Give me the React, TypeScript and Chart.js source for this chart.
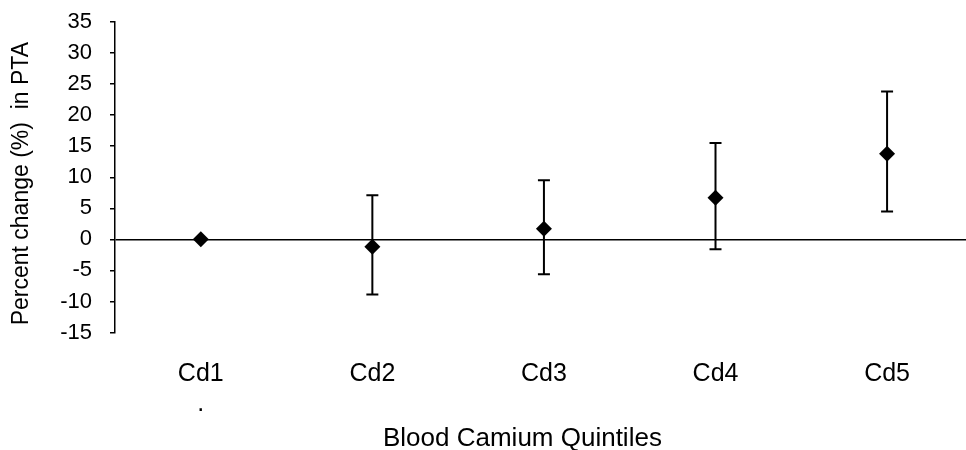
import React, { useEffect, useRef } from "react";
import { Chart, registerables } from "chart.js";

Chart.register(...registerables);

const categories = ["Cd1", "Cd2", "Cd3", "Cd4", "Cd5"];
const percentChange = [0, -1.2, 1.7, 6.7, 13.8];
const lowerCI = [0, -8.9, -5.6, -1.6, 4.5];
const upperCI = [0, 7.1, 9.5, 15.5, 23.8];
const yTicks = [-15, -10, -5, 0, 5, 10, 15, 20, 25, 30, 35];

const FONT = "'Liberation Sans', Arial, sans-serif";

const errorBarPlugin = {
  id: "errorBars",
  beforeDatasetsDraw(chart: any) {
    const { ctx, scales } = chart;
    const xs = scales.x;
    const ys = scales.y;
    ctx.save();
    ctx.strokeStyle = "#000";
    ctx.lineWidth = 2;
    categories.forEach((_, i) => {
      const x = xs.getPixelForValue(i + 1);
      const yLo = ys.getPixelForValue(lowerCI[i]);
      const yHi = ys.getPixelForValue(upperCI[i]);
      const cap = 6;
      ctx.beginPath();
      ctx.moveTo(x, yLo);
      ctx.lineTo(x, yHi);
      ctx.moveTo(x - cap, yLo);
      ctx.lineTo(x + cap, yLo);
      ctx.moveTo(x - cap, yHi);
      ctx.lineTo(x + cap, yHi);
      ctx.stroke();
    });
    ctx.restore();
  },
};

export default function App() {
  const ref = useRef<HTMLCanvasElement | null>(null);

  useEffect(() => {
    document.body.style.margin = "0";
    const canvas = ref.current;
    if (!canvas) return;
    const chart = new Chart(canvas, {
      type: "scatter",
      data: {
        datasets: [
          {
            data: percentChange.map((v, i) => ({ x: i + 1, y: v })),
            pointStyle: "rectRot",
            pointRadius: 8,
            pointHoverRadius: 8,
            backgroundColor: "#000",
            borderColor: "#000",
            borderWidth: 0,
            showLine: false,
            clip: false,
          },
        ],
      },
      options: {
        animation: false,
        responsive: false,
        events: [],
        layout: { autoPadding: false, padding: { top: 22, right: 0, bottom: 0, left: 0 } },
        plugins: {
          legend: { display: false },
          tooltip: { enabled: false },
        },
        scales: {
          x: {
            type: "linear",
            min: 0.5,
            max: 5.46,
            afterBuildTicks: (scale: any) => {
              scale.ticks = categories.map((_, i) => ({ value: i + 1 }));
            },
            afterFit: (scale: any) => {
              scale.height = 117.5;
              scale.paddingLeft = 0;
              scale.paddingRight = 0;
              scale.paddingTop = 0;
              scale.paddingBottom = 0;
            },
            border: { display: false },
            grid: { display: false, drawTicks: false },
            ticks: {
              autoSkip: false,
              maxRotation: 0,
              padding: 27,
              color: "#000",
              font: { family: FONT, size: 25, lineHeight: 1.2 },
              callback: (v: any) => {
                const idx = Number(v) - 1;
                const label = categories[idx];
                return idx === 0 ? [label, "."] : label;
              },
            },
            title: {
              display: true,
              text: "Blood Camium Quintiles     ",
              color: "#000",
              font: { family: FONT, size: 26, lineHeight: 0.88 },
              padding: { top: 0, bottom: 0 },
            },
          },
          y: {
            type: "linear",
            min: -15,
            max: 35,
            afterBuildTicks: (scale: any) => {
              scale.ticks = yTicks.map((v) => ({ value: v }));
            },
            afterFit: (scale: any) => {
              scale.width = 115;
              scale.paddingLeft = 0;
              scale.paddingRight = 0;
              scale.paddingTop = 0;
              scale.paddingBottom = 0;
            },
            border: { display: true, color: "#000", width: 1.5 },
            grid: {
              drawOnChartArea: true,
              drawTicks: true,
              tickLength: 5,
              tickColor: "#000",
              tickWidth: 1.5,
              lineWidth: 1.5,
              color: (c: any) => (c.tick && c.tick.value === 0 ? "#000" : "rgba(0,0,0,0)"),
            },
            ticks: {
              padding: 18,
              color: "#000",
              font: { family: FONT, size: 22 },
              callback: (v: any) => String(v),
            },
            title: {
              display: true,
              text: "Percent change (%)  in PTA  ",
              color: "#000",
              font: { family: FONT, size: 23, lineHeight: 1.2 },
              padding: { top: 7.7, bottom: 0 },
            },
          },
        },
      },
      plugins: [errorBarPlugin],
    });
    return () => chart.destroy();
  }, []);

  return (
    <div style={{ width: 966, height: 450 }}>
      <canvas ref={ref} width={966} height={450} style={{ display: "block" }} />
    </div>
  );
}
